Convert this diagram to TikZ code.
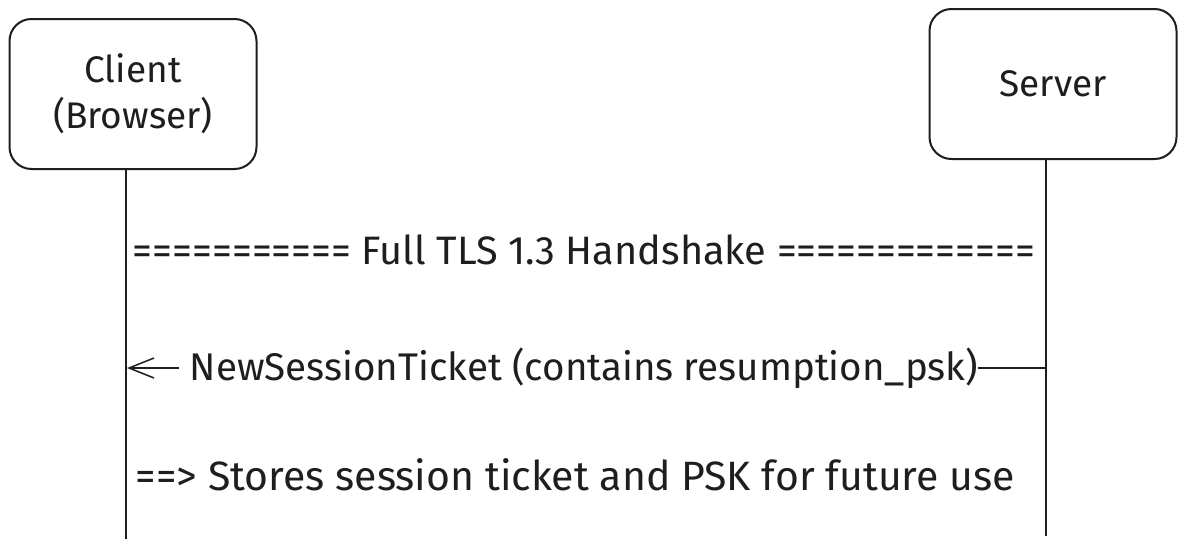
\documentclass[tikz,border=0pt]{standalone}
\usepackage{fontspec}
\setmainfont{Fira Sans}
\usetikzlibrary{arrows.meta}
\definecolor{ink}{HTML}{1E1E1E}
\begin{document}
\begin{tikzpicture}[x=1pt,y=-1pt,
  actor/.style={draw=ink, line width=2pt, rounded corners=22pt, minimum width=247pt, minimum height=150pt, align=center, font=\fontsize{37}{46}\selectfont, text=ink, inner sep=0pt},
  life/.style={draw=ink, line width=2pt},
  msg/.style={draw=ink, line width=1.5pt},
  lbl/.style={inner sep=3pt, text=ink}]
\useasboundingbox[fill=white] (0,0) rectangle (1186,549);
\node[actor] (cli) at (133,94) {Client\\(Browser)};
\node[actor] (srv) at (1053,84) {Server};
\coordinate (cliend) at (126,539);
\coordinate (srvend) at (1046,536);
\draw[life] (cli.south -| cliend) -- (cliend);
\draw[life] (srv.south -| srvend) -- (srvend);
\node[lbl] (hs) at (584,250) {\resizebox{902pt}{!}{=========== Full TLS 1.3 Handshake =============}};
\coordinate (srvmsg) at (1046,368);
\coordinate (climsg) at (127,368);
\node[lbl, inner xsep=0pt] (nst) at (584,368) {\resizebox{788pt}{!}{NewSessionTicket (contains resumption\_psk)}};
\coordinate (nstl) at ([xshift=-11pt]nst.west);
\draw[msg] (srvmsg) -- (nst.east);
\draw[msg,-{Straight Barb[length=25pt,width=20pt,line width=1.5pt]}] (nstl) -- (climsg);
\node[lbl] (st) at (575.5,475) {\resizebox{879pt}{!}{==> Stores session ticket and PSK for future use}};
\end{tikzpicture}
\end{document}
